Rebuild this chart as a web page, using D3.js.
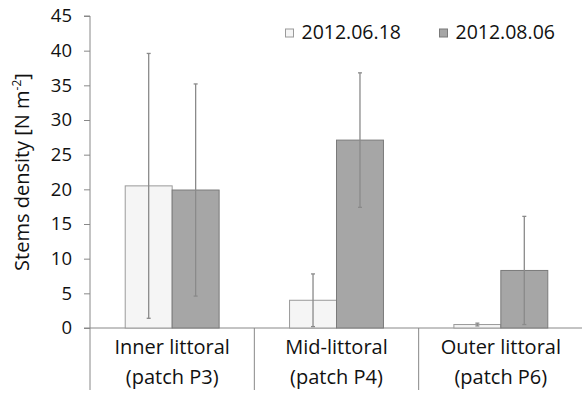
<!DOCTYPE html>
<html lang="en">
<head>
<meta charset="UTF-8">
<title>Stems density</title>
<style>
    body{ margin:0; background:white; }
    svg text{ font-family:"Open Sans", sans-serif; fill:#111; }
</style>
</head>
<body>
<script src="https://d3js.org/d3.v7.min.js"></script>
<script>

    var categories = [["Inner littoral", "(patch P3)"], ["Mid-littoral", "(patch P4)"], ["Outer littoral", "(patch P6)"]];
    var seriesNames = ["2012.06.18", "2012.08.06"];
    var june = [20.5, 4.0, 0.5];
    var juneSd = [19.1, 3.8, 0.2];
    var august = [19.9, 27.1, 8.3];
    var augustSd = [15.3, 9.7, 7.8];
    var yTicks = [0, 5, 10, 15, 20, 25, 30, 35, 40, 45];

    var width = 582, height = 395;
    var mLeft = 90, mRight = 583, mTop = 16, mBottom = 328, sepEnd = 390;

    var fills = ["#f5f5f5", "#a6a6a6"];
    var strokes = ["#9a9a9a", "#7a7a7a"];

    var svg = d3.select("body").append("svg")
            .attr("width", width)
            .attr("height", height);

    var x = d3.scaleBand()
            .domain(d3.range(categories.length))
            .range([mLeft, mRight]);

    var xs = d3.scaleBand()
            .domain([0, 1])
            .range([0, x.bandwidth()])
            .paddingOuter(0.75)
            .paddingInner(0);

    var y = d3.scaleLinear()
            .domain([0, 45])
            .range([mBottom, mTop]);

    // y axis
    var yAxis = svg.append("g")
            .attr("transform", "translate(" + mLeft + ",0)")
            .call(d3.axisLeft(y).tickValues(yTicks).tickSize(6).tickPadding(12));
    yAxis.select(".domain").attr("d", "M-6," + mTop + "H0V" + sepEnd).attr("stroke", "#888");
    yAxis.selectAll(".tick line").attr("stroke", "#888");
    yAxis.selectAll(".tick text").style("font-size", "18.5px").attr("fill", "#111")
            .style("font-family", "'Open Sans', sans-serif");

    // x axis and category separators
    svg.append("line")
            .attr("x1", mLeft - 6).attr("x2", mRight)
            .attr("y1", mBottom).attr("y2", mBottom)
            .attr("stroke", "#888");

    svg.selectAll(".sep").data(d3.range(1, categories.length + 1)).enter()
            .append("line")
            .attr("class", "sep")
            .attr("x1", function(d){ return x(d - 1) + x.bandwidth(); })
            .attr("x2", function(d){ return x(d - 1) + x.bandwidth(); })
            .attr("y1", mBottom).attr("y2", sepEnd)
            .attr("stroke", "#888");

    var rows = [];
    categories.forEach(function(c, i){
        rows.push({cat:i, s:0, v:june[i], sd:juneSd[i]});
        rows.push({cat:i, s:1, v:august[i], sd:augustSd[i]});
    });

    svg.selectAll(".bar").data(rows).enter()
            .append("rect")
            .attr("class", "bar")
            .attr("x", function(d){ return x(d.cat) + xs(d.s); })
            .attr("width", xs.bandwidth())
            .attr("y", function(d){ return y(d.v); })
            .attr("height", function(d){ return mBottom - y(d.v); })
            .attr("fill", function(d){ return fills[d.s]; })
            .attr("stroke", function(d){ return strokes[d.s]; })
            .attr("stroke-width", 1);

    // error bars
    var err = svg.selectAll(".err").data(rows).enter()
            .append("g")
            .attr("class", "err")
            .attr("transform", function(d){ return "translate(" + (x(d.cat) + xs(d.s) + xs.bandwidth() / 2) + ",0)"; })
            .attr("stroke", "#8a8a8a")
            .attr("stroke-width", 1.3);
    err.append("line")
            .attr("y1", function(d){ return y(d.v + d.sd); })
            .attr("y2", function(d){ return y(Math.max(0, d.v - d.sd)); });
    err.append("line")
            .attr("x1", -2).attr("x2", 2)
            .attr("y1", function(d){ return y(d.v + d.sd); })
            .attr("y2", function(d){ return y(d.v + d.sd); });
    err.append("line")
            .attr("x1", -2).attr("x2", 2)
            .attr("y1", function(d){ return y(Math.max(0, d.v - d.sd)); })
            .attr("y2", function(d){ return y(Math.max(0, d.v - d.sd)); });

    // category labels
    var lab = svg.selectAll(".cat").data(categories).enter()
            .append("text")
            .attr("class", "cat")
            .attr("text-anchor", "middle")
            .style("font-size", "20px");
    lab.append("tspan")
            .attr("x", function(d, i){ return x(i) + x.bandwidth() / 2; })
            .attr("y", 354)
            .text(function(d){ return d[0]; });
    lab.append("tspan")
            .attr("x", function(d, i){ return x(i) + x.bandwidth() / 2; })
            .attr("y", 384)
            .text(function(d){ return d[1]; });

    // y title
    var title = svg.append("text")
            .attr("transform", "translate(29," + ((mTop + mBottom) / 2) + ") rotate(-90)")
            .attr("text-anchor", "middle")
            .style("font-size", "20px");
    title.append("tspan").text("Stems density [N m");
    title.append("tspan").attr("dy", -8).style("font-size", "12px").text("-2");
    title.append("tspan").attr("dy", 8).text("]");

    // legend
    var legX = [285.5, 439.5];
    var leg = svg.selectAll(".leg").data(seriesNames).enter()
            .append("g")
            .attr("class", "leg")
            .attr("transform", function(d, i){ return "translate(" + legX[i] + ",29)"; });
    leg.append("rect")
            .attr("width", 8).attr("height", 8)
            .attr("fill", function(d, i){ return fills[i]; })
            .attr("stroke", function(d, i){ return strokes[i]; });
    leg.append("text")
            .attr("x", 16).attr("y", 10)
            .style("font-size", "19.5px")
            .text(function(d){ return d; });

</script>
</body>
</html>
